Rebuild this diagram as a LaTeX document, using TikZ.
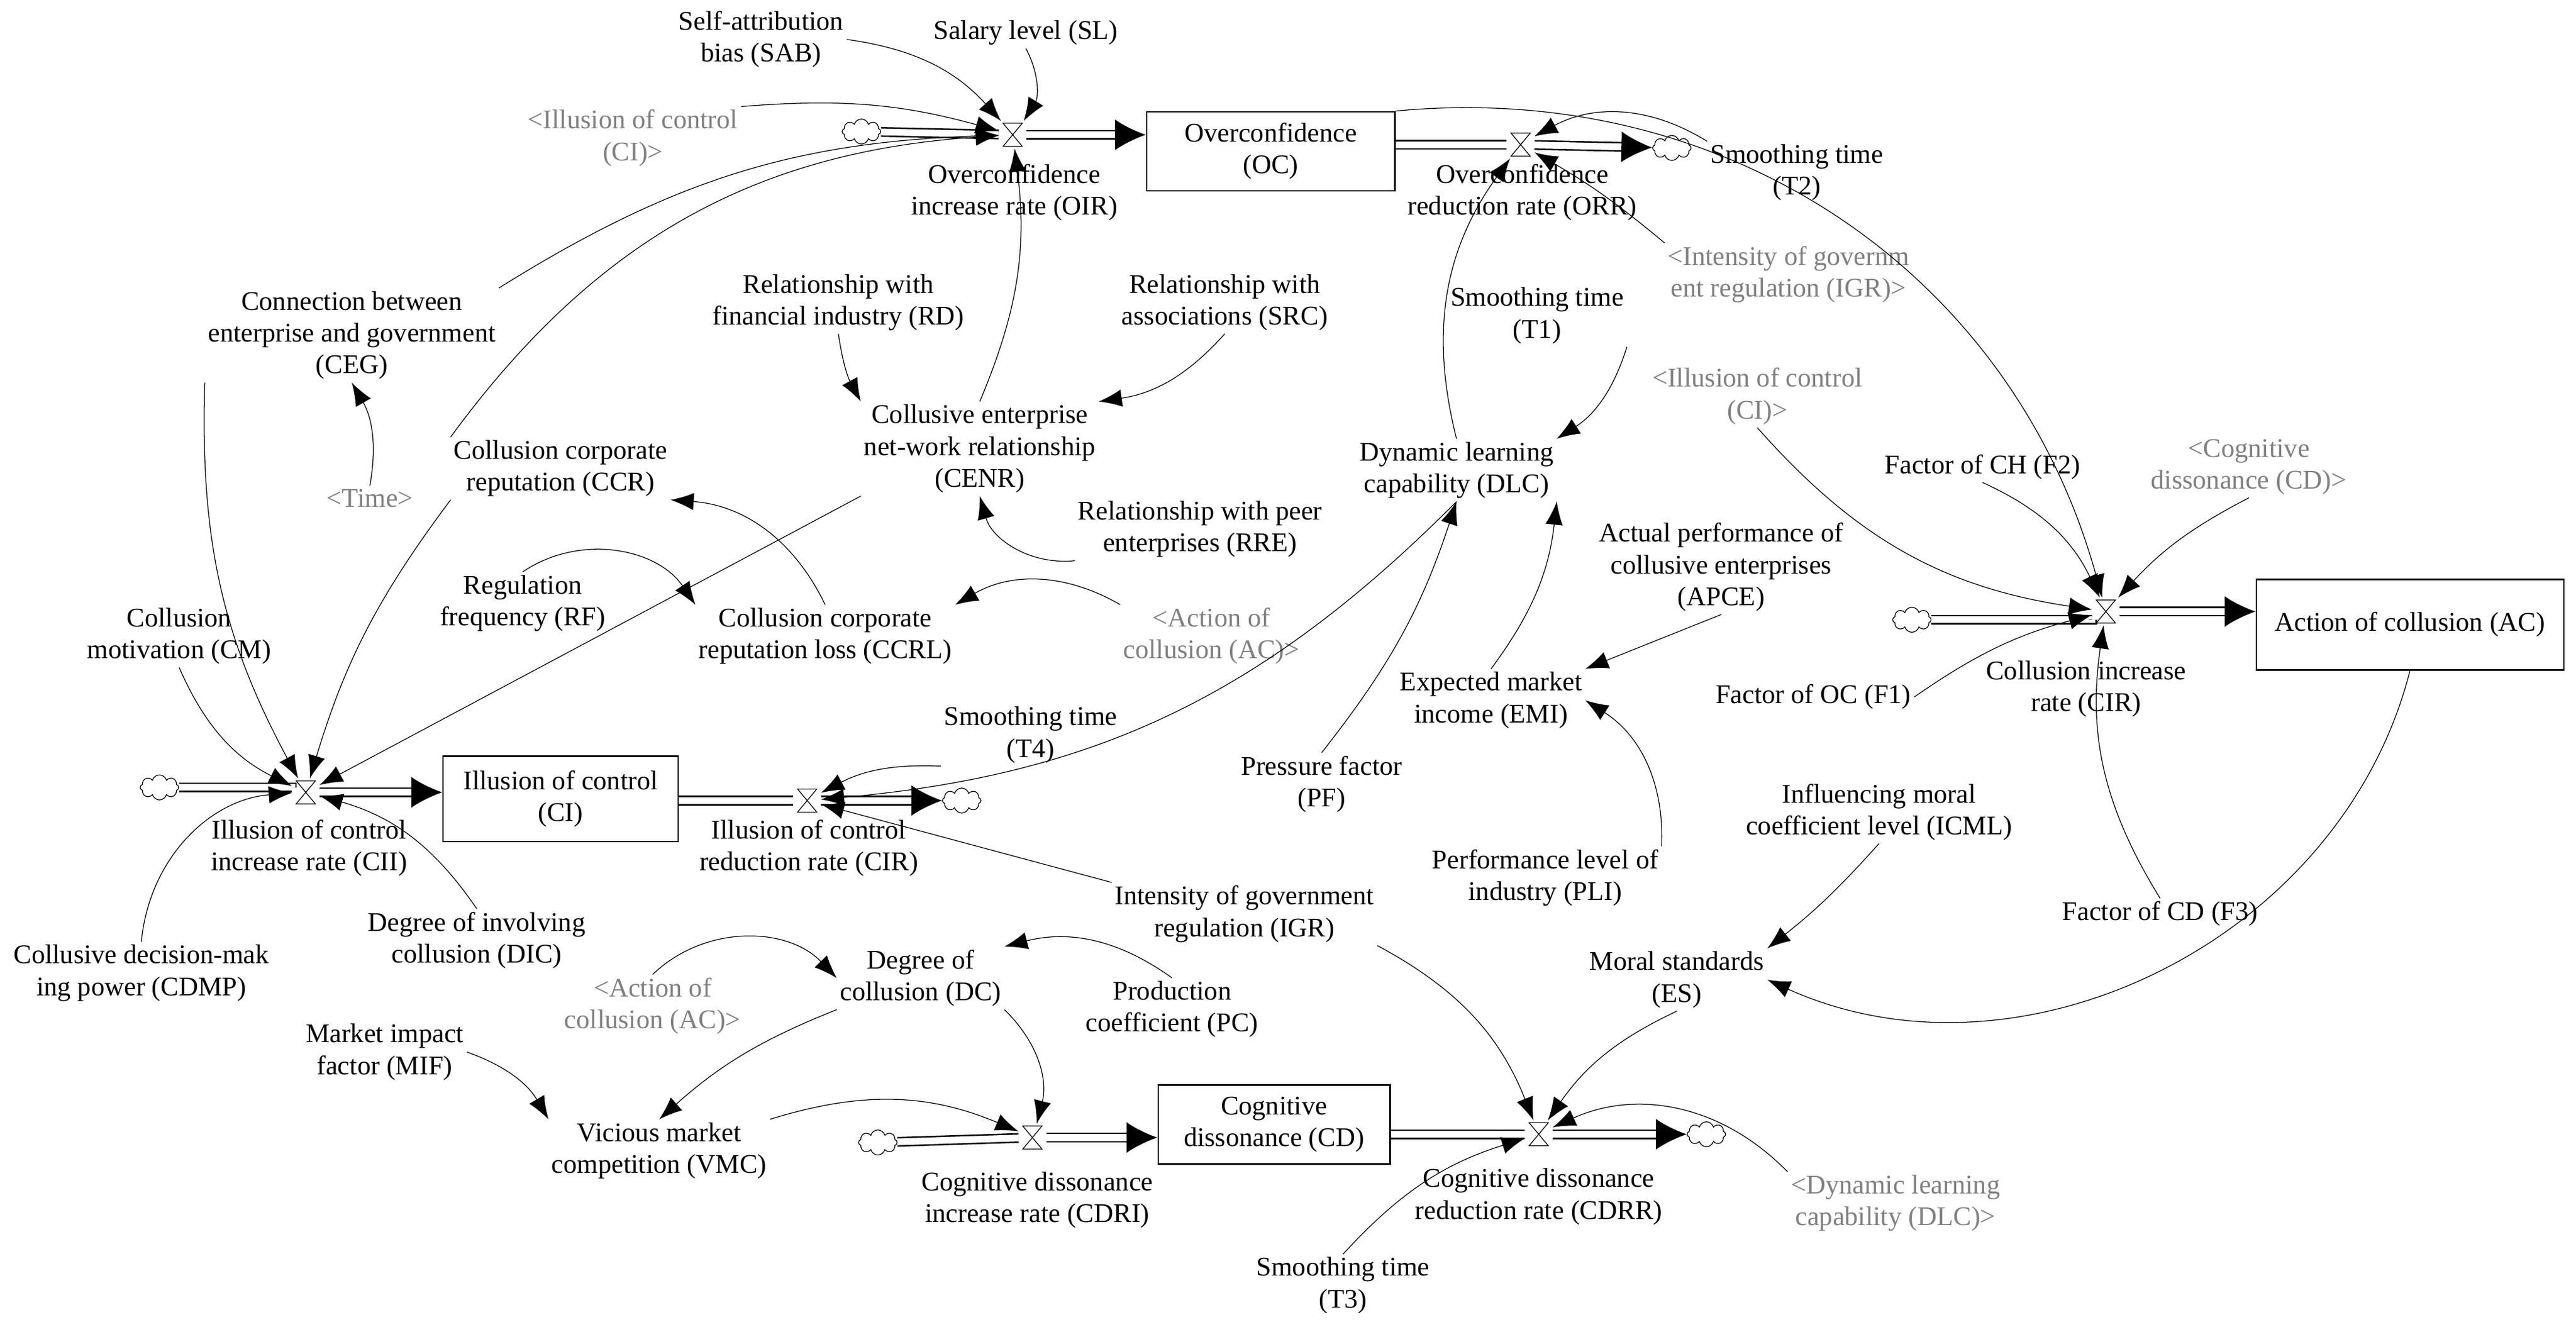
\documentclass[tikz,border=0pt]{standalone}
\usepackage{fontspec}
\setmainfont{Liberation Serif}
\usetikzlibrary{arrows.meta,shapes.symbols}
\definecolor{gry}{RGB}{128,128,128}
\begin{document}
\begin{tikzpicture}[x=0.03cm,y=0.03cm,
  every node/.style={font=\fontsize{14}{16.5}\selectfont,align=center,inner sep=1.5pt},
  v/.style={align=center},
  g/.style={text=gry},
  stock/.style={draw,thick,minimum height=1.44cm},
  valve/.style={minimum size=14pt,inner sep=0pt,path picture={
     \draw ([xshift=-5pt,yshift=6pt]path picture bounding box.center)--++(10pt,0)--++(-10pt,-12pt)--++(10pt,0)--cycle;}},
  cl/.style={cloud,cloud puffs=8,draw,minimum width=20pt,minimum height=13pt,inner sep=0pt},
  flow/.style={draw,double distance=3.5pt,thick},
  flowa/.style={flow,-{Latex[length=16pt,width=16pt]}},
  ar/.style={draw,-{Latex[length=12pt,width=9pt]}}]
\useasboundingbox (0,0) rectangle (1567,-810);
% stocks
\node[stock,minimum width=4.53cm] (oc) at (773,-92) {Overconfidence\\(OC)};
\node[stock,minimum width=5.61cm,minimum height=1.65cm] (ac) at (1466,-380) {Action of collusion (AC)};
\node[stock,minimum width=4.29cm,minimum height=1.56cm] (ci) at (341,-486) {Illusion of control\\(CI)};
\node[stock,minimum width=4.23cm] (cd) at (775,-684) {Cognitive\\dissonance (CD)};
% valves
\node[valve] (v1) at (616,-82) {};
\node[valve] (v2) at (925,-88) {};
\node[valve] (vc) at (1281,-372) {};
\node[valve] (v3) at (186,-482) {};
\node[valve] (v4) at (491,-487) {};
\node[valve] (v6) at (628,-692) {};
\node[valve] (v7) at (936,-690) {};
% clouds
\node[cl] (c1) at (524,-80) {};
\node[cl] (c2) at (1017,-90) {};
\node[cl] (c3) at (1163,-377) {};
\node[cl] (c4) at (97,-479) {};
\node[cl] (c5) at (585,-487) {};
\node[cl] (c6) at (534,-695) {};
\node[cl] (c7) at (1038,-690) {};
% flows
\draw[flow] (c1) -- (v1); \draw[flowa] (v1) -- (oc.west|-v1);
\draw[flow] (oc.east|-v2) -- (v2); \draw[flowa] (v2) -- (c2);
\draw[flow] (c3) -- (c3-|vc.west) -- (vc); \draw[flowa] (vc) -- (ac.west|-vc);
\draw[flow] (c4) -- (c4-|v3.west) -- (v3); \draw[flowa] (v3) -- (ci.west|-v3);
\draw[flow] (ci.east|-v4) -- (v4); \draw[flowa] (v4) -- (c5);
\draw[flow] (c6) -- (v6); \draw[flowa] (v6) -- (cd.west|-v6);
\draw[flow] (cd.east|-v7) -- (v7); \draw[flowa] (v7) -- (c7);
% variables
\node (sab) at (463,-24) {Self-attribution\\bias (SAB)};
\node (sl) at (624,-20) {Salary level (SL)};
\node[g] (cig1) at (385,-84) {<Illusion of control\\(CI)>};
\node (oir) at (617,-117) {Overconfidence\\increase rate (OIR)};
\node (orr) at (926,-117) {Overconfidence\\reduction rate (ORR)};
\node (t2) at (1093,-105) {Smoothing time\\(T2)};
\node[g] (igrg) at (1088,-167) {<Intensity of governm\\ent regulation (IGR)>};
\node (ceg) at (214,-204) {Connection between\\enterprise and government\\(CEG)};
\node (rd) at (510,-184) {Relationship with\\financial industry (RD)};
\node (src) at (745,-184) {Relationship with\\associations (SRC)};
\node (t1) at (935,-192) {Smoothing time\\(T1)};
\node[g] (cig2) at (1069,-241) {<Illusion of control\\(CI)>};
\node (cenr) at (596,-273) {Collusive enterprise\\net-work relationship\\(CENR)};
\node (ccr) at (341,-285) {Collusion corporate\\reputation (CCR)};
\node[g] (time) at (225,-303) {<Time>};
\node (dlc) at (886,-286) {Dynamic learning\\capability (DLC)};
\node (f2) at (1206,-284) {Factor of CH (F2)};
\node[g] (cdg) at (1368,-284) {<Cognitive\\dissonance (CD)>};
\node (rre) at (730,-322) {Relationship with peer\\enterprises (RRE)};
\node (apce) at (1047,-345) {Actual performance of\\collusive enterprises\\(APCE)};
\node (rf) at (318,-367) {Regulation\\frequency (RF)};
\node (cm) at (109,-387) {Collusion\\motivation (CM)};
\node (ccrl) at (502,-387) {Collusion corporate\\reputation loss (CCRL)};
\node[g] (acg1) at (737,-387) {<Action of\\collusion (AC)>};
\node (cir) at (1269,-419) {Collusion increase\\rate (CIR)};
\node (f1) at (1103,-424) {Factor of OC (F1)};
\node (emi) at (907,-426) {Expected market\\income (EMI)};
\node (t4) at (627,-447) {Smoothing time\\(T4)};
\node (pf) at (804,-477) {Pressure factor\\(PF)};
\node (icml) at (1143,-494) {Influencing moral\\coefficient level (ICML)};
\node (cii) at (188,-516) {Illusion of control\\increase rate (CII)};
\node (cir2) at (492,-516) {Illusion of control\\reduction rate (CIR)};
\node (pli) at (940,-534) {Performance level of\\industry (PLI)};
\node (igr) at (757,-556) {Intensity of government\\regulation (IGR)};
\node (f3) at (1314,-556) {Factor of CD (F3)};
\node (dic) at (290,-572) {Degree of involving\\collusion (DIC)};
\node (es) at (1020,-596) {Moral standards\\(ES)};
\node (dc) at (560,-595) {Degree of\\collusion (DC)};
\node (cdmp) at (86,-592) {Collusive decision-mak\\ing power (CDMP)};
\node[g] (acg2) at (397,-612) {<Action of\\collusion (AC)>};
\node (pc) at (713,-614) {Production\\coefficient (PC)};
\node (mif) at (234,-640) {Market impact\\factor (MIF)};
\node (vmc) at (401,-700) {Vicious market\\competition (VMC)};
\node (cdri) at (631,-730) {Cognitive dissonance\\increase rate (CDRI)};
\node (cdrr) at (936,-728) {Cognitive dissonance\\reduction rate (CDRR)};
\node[g] (dlcg) at (1153,-732) {<Dynamic learning\\capability (DLC)>};
\node (t3) at (817,-782) {Smoothing time\\(T3)};
% causal links
\draw[ar] (sab.east) to[bend left=20] (v1);
\draw[ar] (sl.south) to[bend left=30] (v1);
\draw[ar] (cig1.north east) to[bend left=10] (v1);
\draw[ar] (ceg.north east) to[bend left=15] (v1);
\draw[ar] (ccr.north west) to[bend left=25] (v1);
\draw[ar] (cenr.north) to[bend right=15] (v1);
\draw[ar] (oc.north east) to[bend left=40] (vc);
\draw[ar] (t2.north west) to[bend right=30] (v2);
\draw[ar] (igrg.north west) to[bend right=5] (v2);
\draw[ar] (dlc.north) to[bend left=25] (v2);
\draw[ar] (t1.south east) to[bend left=20] (dlc.north east);
\draw[ar] (rd.south) to[bend right=10] (cenr.north west);
\draw[ar] (src.south) to[bend left=20] (cenr.north east);
\draw[ar] (time.north) to[bend right=20] (ceg.south);
\draw[ar] (ccrl.north) to[bend right=30] (ccr.south east);
\draw[ar] (rf.north) to[bend left=45] (ccrl.north west);
\draw[ar] (rre.south west) to[bend left=40] (cenr.south);
\draw[ar] (acg1.north west) to[bend right=30] (ccrl.north east);
\draw[ar] (cenr.south west) -- (v3);
\draw[ar] (ccr.south west) to[bend right=10] (v3);
\draw[ar] (ceg.south west) to[bend right=15] (v3);
\draw[ar] (cm.south) to[bend right=20] (v3);
\draw[ar] (cdmp.north) to[bend left=40] (v3);
\draw[ar] (dic.north) to[bend right=20] (v3);
\draw[ar] (dlc.south) to[bend left=20] (v4);
\draw[ar] (t4.south west) to[bend right=15] (v4);
\draw[ar] (igr.north west) -- (v4);
\draw[ar] (pf.north) to[bend right=10] (dlc.south);
\draw[ar] (emi.north) to[bend right=15] (dlc.south east);
\draw[ar] (apce.south) -- (emi.north east);
\draw[ar] (pli.north east) to[bend right=30] (emi.east);
\draw[ar] (cig2.south) to[bend right=20] (vc);
\draw[ar] (f2.south) to[bend left=20] (vc);
\draw[ar] (cdg.south) to[bend right=10] (vc);
\draw[ar] (f1.east) to[bend left=10] (vc);
\draw[ar] (f3.north) to[bend left=20] (vc);
\draw[ar] (ac.south) to[bend left=50] (es.east);
\draw[ar] (icml.south) to[bend left=5] (es.north east);
\draw[ar] (es.south) to[bend right=15] (v7);
\draw[ar] (igr.south east) to[bend left=20] (v7);
\draw[ar] (dlcg.north west) to[bend right=35] (v7);
\draw[ar] (t3.north) to[bend left=15] (v7);
\draw[ar] (dc.south east) to[bend left=30] (v6);
\draw[ar] (vmc.north east) to[bend left=20] (v6);
\draw[ar] (acg2.north) to[bend left=45] (dc.west);
\draw[ar] (pc.north) to[bend right=25] (dc.north east);
\draw[ar] (dc.south west) to[bend right=10] (vmc.north);
\draw[ar] (mif.east) to[bend left=20] (vmc.north west);
\end{tikzpicture}
\end{document}
